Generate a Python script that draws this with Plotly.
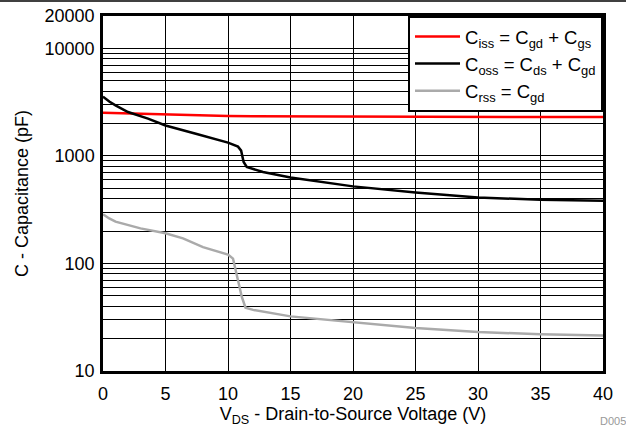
import plotly.graph_objects as go

# Data
vds_iss = [0, 2, 5, 8, 10, 12, 15, 20, 25, 30, 35, 40]
ciss = [2520, 2480, 2420, 2380, 2350, 2340, 2330, 2320, 2310, 2300, 2300, 2300]

vds_oss = [0, 0.5, 1, 2, 3.6, 5, 7.5, 10, 10.8, 11.05, 11.25, 11.5, 12.8, 15, 20, 25, 30, 35, 40]
coss = [3560, 3200, 2950, 2560, 2220, 1920, 1600, 1330, 1220, 1120, 879, 789, 708, 631, 521, 458, 411, 391, 382]

vds_rss = [0, 0.5, 1, 2, 3, 5, 6.4, 8, 10, 10.4, 10.7, 11.1, 11.4, 12, 15, 20, 25, 30, 35, 40]
crss = [287, 262, 245, 228, 212, 191, 171, 142, 121, 111, 76, 49, 38.8, 37, 32.2, 28.3, 25.1, 23, 22, 21.4]

x_ticks = [0, 5, 10, 15, 20, 25, 30, 35, 40]
y_ticks = [10, 100, 1000, 10000, 20000]
y_minor = [m * d for d in (10, 100, 1000) for m in range(2, 10)]

names = ["C<sub>iss</sub> = C<sub>gd</sub> + C<sub>gs</sub>",
         "C<sub>oss</sub> = C<sub>ds</sub> + C<sub>gd</sub>",
         "C<sub>rss</sub> = C<sub>gd</sub>"]

FONT = "Liberation Sans, Arial, sans-serif"

fig = go.Figure()
fig.add_trace(go.Scatter(x=vds_iss, y=ciss, mode="lines", name=names[0],
                         line=dict(color="#FF0000", width=2.5)))
fig.add_trace(go.Scatter(x=vds_oss, y=coss, mode="lines", name=names[1],
                         line=dict(color="#000000", width=2.5)))
fig.add_trace(go.Scatter(x=vds_rss, y=crss, mode="lines", name=names[2],
                         line=dict(color="#AAAAAA", width=2.5)))

fig.update_layout(
    width=626, height=427,
    margin=dict(l=103, r=23, t=16, b=56),
    paper_bgcolor="white", plot_bgcolor="white",
    font=dict(family=FONT, size=18, color="black"),
    showlegend=True,
    legend=dict(x=1, y=1, xanchor="right", yanchor="top",
                bgcolor="white", bordercolor="black", borderwidth=2,
                font=dict(family=FONT, size=18.5), tracegroupgap=0,
                itemwidth=45),
    xaxis=dict(range=[0, 40], tickvals=x_ticks, showgrid=True,
               gridcolor="black", gridwidth=1, zeroline=False,
               showline=True, linecolor="black", linewidth=2.5, mirror=True,
               ticks="", tickfont=dict(size=18), ticklabelstandoff=5,
               automargin=False,
               title=dict(text="V<sub>DS</sub> - Drain-to-Source Voltage (V)",
                          font=dict(size=18), standoff=2)),
    yaxis=dict(type="log", range=[1, 4.30103], tickvals=y_ticks,
               ticktext=[str(v) for v in y_ticks],
               showgrid=True, gridcolor="black", gridwidth=1, zeroline=False,
               showline=True, linecolor="black", linewidth=2.5, mirror=True,
               ticks="", tickfont=dict(size=18), ticklabelstandoff=2,
               automargin=False,
               minor=dict(tickvals=y_minor, showgrid=True, gridcolor="black",
                          gridwidth=1, ticks=""),
               title=dict(text="C - Capacitance (pF)", font=dict(size=18),
                          standoff=12)),
)

fig.add_shape(type="line", xref="paper", yref="paper",
              x0=-0.21, x1=1.05, y0=1.042, y1=1.042,
              line=dict(color="black", width=1.5))
fig.add_annotation(text="D005", xref="paper", yref="paper",
                   x=0.99, y=-0.141, xanchor="left", yanchor="middle",
                   showarrow=False, font=dict(size=11, color="#999999"))

fig.write_html("out.html", config={"displayModeBar": False},
               post_script="document.body.style.margin='0';")
